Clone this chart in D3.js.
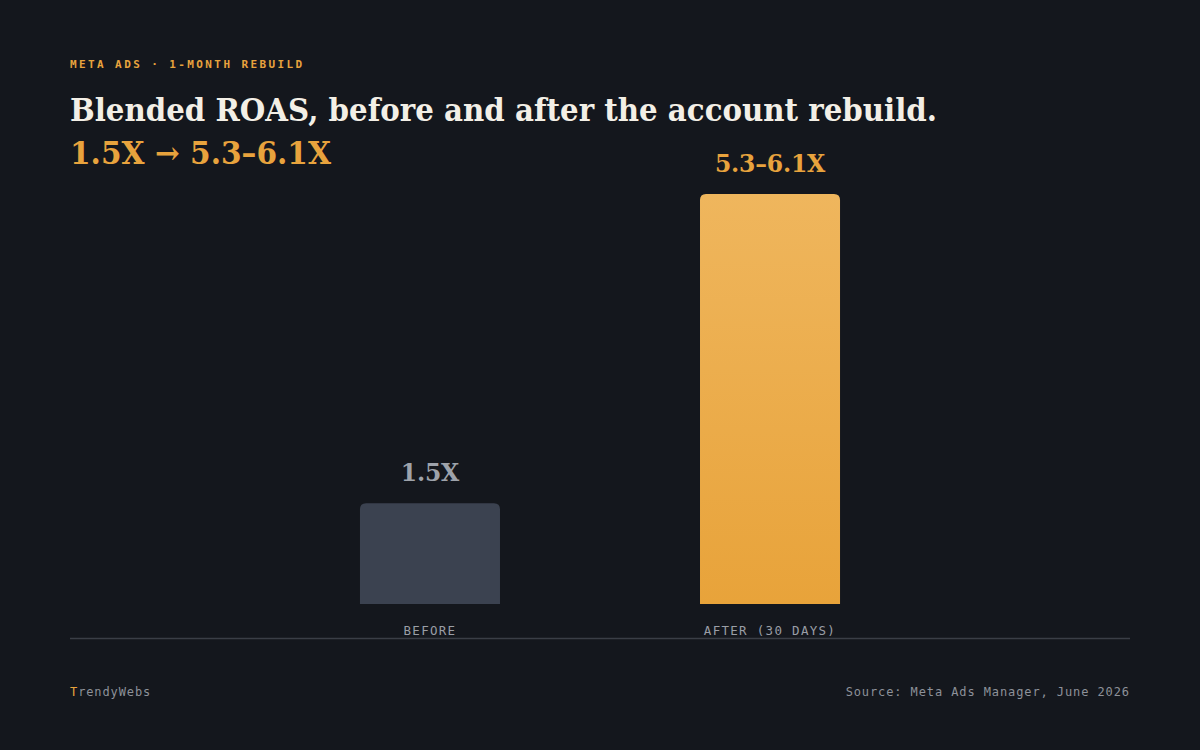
<!DOCTYPE html>
<html>
<head>
<meta charset="utf-8">
<script src="https://cdn.jsdelivr.net/npm/d3@7"></script>
<style>
	html, body { margin: 0; padding: 0; background: #14171d; }
	svg { display: block; }
</style>
</head>
<body>
<svg id="chart" width="1200" height="750" viewBox="0 0 1200 750"></svg>
<script>
const categories = ["BEFORE", "AFTER (30 DAYS)"];
const values = [1.5, 6.1];
const valueLabels = ["1.5X", "5.3–6.1X"];

const eyebrow = "META ADS · 1-MONTH REBUILD";
const title = "Blended ROAS, before and after the account rebuild.";
const subtitle = "1.5X → 5.3–6.1X";
const source = "Source: Meta Ads Manager, June 2026";

const orange = "#e8a33d";
const serif = "'DejaVu Serif', serif";
const mono = "'DejaVu Sans Mono', monospace";

const svg = d3.select("#chart");
const width = 1200;

svg.append("rect").attr("width", width).attr("height", 750).attr("fill", "#14171d");

const defs = svg.append("defs");
const grad = defs.append("linearGradient")
	.attr("id", "afterGrad")
	.attr("x1", 0).attr("y1", 0).attr("x2", 0).attr("y2", 1);
grad.append("stop").attr("offset", "0%").attr("stop-color", "#efb65d");
grad.append("stop").attr("offset", "100%").attr("stop-color", "#e8a33a");

// header
svg.append("text")
	.attr("x", 70).attr("y", 68)
	.attr("font-family", mono).attr("font-size", 11).attr("font-weight", "bold")
	.attr("letter-spacing", 2.4)
	.attr("fill", orange)
	.text(eyebrow);

svg.append("text")
	.attr("x", 70).attr("y", 121)
	.attr("font-family", serif).attr("font-size", 31).attr("font-weight", "bold")
	.attr("fill", "#f3efe6")
	.attr("textLength", 867).attr("lengthAdjust", "spacingAndGlyphs")
	.text(title);

svg.append("text")
	.attr("x", 70).attr("y", 164)
	.attr("font-family", serif).attr("font-size", 31).attr("font-weight", "bold")
	.attr("fill", orange)
	.attr("textLength", 261).attr("lengthAdjust", "spacingAndGlyphs")
	.text(subtitle);

// scales
const x = d3.scaleBand()
	.domain(categories)
	.range([260, 940])
	.paddingInner(0.5882)
	.paddingOuter(0.294);

const y = d3.scaleLinear()
	.domain([0, d3.max(values)])
	.range([604, 194]);

const r = 6;
function topRounded(x0, y0, w, h) {
	const rr = Math.min(r, h);
	return `M${x0},${y0 + h}V${y0 + rr}Q${x0},${y0} ${x0 + rr},${y0}` +
		`H${x0 + w - rr}Q${x0 + w},${y0} ${x0 + w},${y0 + rr}V${y0 + h}Z`;
}

const bars = svg.append("g").selectAll("g")
	.data(categories.map((c, i) => ({ c, v: values[i], label: valueLabels[i], i })))
	.join("g");

bars.append("path")
	.attr("d", d => topRounded(x(d.c), y(d.v), x.bandwidth(), y(0) - y(d.v)))
	.attr("fill", d => d.i === 0 ? "#3b4250" : "url(#afterGrad)");

bars.append("text")
	.attr("x", d => x(d.c) + x.bandwidth() / 2)
	.attr("y", d => y(d.v) - 22)
	.attr("text-anchor", "middle")
	.attr("font-family", serif).attr("font-size", 23.5).attr("font-weight", "bold")
	.attr("letter-spacing", -0.2)
	.attr("fill", d => d.i === 0 ? "#9ea3ab" : orange)
	.text(d => d.label);

// axis
svg.append("line")
	.attr("x1", 70).attr("x2", 1130)
	.attr("y1", 638.5).attr("y2", 638.5)
	.attr("stroke", "#3a3e46").attr("stroke-width", 1.5);

svg.append("g").selectAll("text")
	.data(categories)
	.join("text")
	.attr("x", d => x(d) + x.bandwidth() / 2)
	.attr("y", 635)
	.attr("text-anchor", "middle")
	.attr("font-family", mono).attr("font-size", 12.5)
	.attr("letter-spacing", 1.3)
	.attr("fill", "#9a9ea6")
	.text(d => d);

// footer
const brand = svg.append("text")
	.attr("x", 70).attr("y", 696)
	.attr("font-family", mono).attr("font-size", 12)
	.attr("letter-spacing", 0.9)
	.attr("fill", "#8d9199");
brand.append("tspan").attr("fill", orange).text("T");
brand.append("tspan").text("rendyWebs");

svg.append("text")
	.attr("x", 1130).attr("y", 696)
	.attr("text-anchor", "end")
	.attr("font-family", mono).attr("font-size", 12)
	.attr("letter-spacing", 0.9)
	.attr("fill", "#8d9199")
	.text(source);
</script>
</body>
</html>
